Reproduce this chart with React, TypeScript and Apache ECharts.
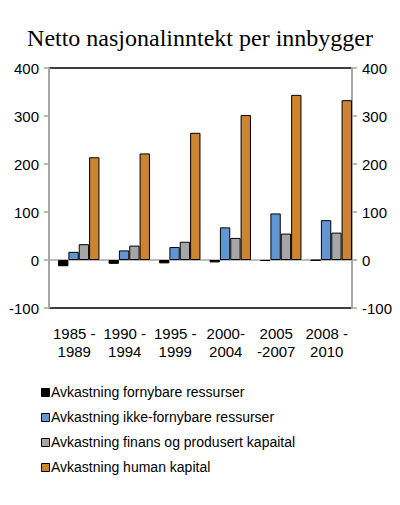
import React, { useEffect, useRef } from "react";
import * as echarts from "echarts";

const periods = ["1985 -\n1989", "1990 -\n1994", "1995 -\n1999", "2000-\n2004", "2005\n-2007", "2008 -\n2010"];
const fornybare = [-13, -8, -7, -5, -2, -1];
const ikkeFornybare = [17, 20, 27, 68, 97, 83];
const finans = [33, 30, 38, 46, 55, 57];
const human = [214, 222, 265, 302, 344, 333];

const seriesNames = [
  "Avkastning fornybare ressurser",
  "Avkastning ikke-fornybare ressurser",
  "Avkastning finans og produsert kapaital",
  "Avkastning human kapital",
];
const colors = ["#000000", "#6096d6", "#a6a6a6", "#cc8431"];

const App: React.FC = () => {
  const chartRef = useRef<HTMLDivElement>(null);

  useEffect(() => {
    const chart = echarts.init(chartRef.current!, undefined, { renderer: "svg" });
    const font = "Liberation Sans, Arial, sans-serif";
    const yAxisCommon = {
      type: "value",
      min: -100,
      max: 400,
      interval: 100,
      gridIndex: 0,
      axisLine: { show: true, lineStyle: { color: "#a6a6a6", width: 2 } },
      axisTick: { show: true, length: 5, lineStyle: { color: "#a6a6a6", width: 1.5 } },
      splitLine: { show: false },
      axisLabel: { color: "#000", fontSize: 15, fontFamily: font, margin: 10 },
    };
    const data = [fornybare, ikkeFornybare, finans, human];

    // legend drawn by hand so the swatches stay square
    const legendItems = seriesNames.flatMap((name, i) => [
      {
        type: "rect",
        left: 41,
        top: 388 + i * 25,
        shape: { width: 8, height: 8 },
        style: { fill: colors[i], stroke: "#000", lineWidth: 1 },
      },
      {
        type: "text",
        left: 51,
        top: 385 + i * 25,
        style: { text: name, fontSize: 14, fontFamily: font, fill: "#000" },
      },
    ]);

    const options = {
      animation: false,
      backgroundColor: "#ffffff",
      title: {
        text: "Netto nasjonalinntekt per innbygger",
        left: "center",
        top: 21,
        textStyle: {
          fontFamily: "Liberation Serif, Times New Roman, serif",
          fontWeight: "normal",
          fontSize: 24,
          color: "#000",
        },
      },
      grid: [
        { left: 49, right: 48, top: 68, bottom: 197, show: true, borderColor: "#000", borderWidth: 1.5 },
        { left: 53.5, right: 43.5, top: 68, bottom: 197 },
      ],
      graphic: legendItems,
      xAxis: [
        {
          type: "category",
          gridIndex: 0,
          data: periods,
          axisLine: { show: false, onZero: false },
          axisTick: { show: false },
          axisLabel: { color: "#000", fontSize: 15, fontFamily: font, margin: 16, lineHeight: 18, interval: 0 },
        },
        {
          type: "category",
          gridIndex: 1,
          data: periods,
          axisLine: { show: false, onZero: false },
          axisTick: { show: false },
          axisLabel: { show: false },
        },
      ],
      yAxis: [
        { ...yAxisCommon, position: "left" },
        { ...yAxisCommon, position: "right" },
        {
          type: "value",
          gridIndex: 1,
          min: -100,
          max: 400,
          interval: 100,
          show: false,
        },
      ],
      series: seriesNames.map((name, i) => ({
        name,
        type: "bar",
        xAxisIndex: 1,
        yAxisIndex: 2,
        data: data[i],
        barCategoryGap: "18%",
        barGap: "0%",
        itemStyle: { color: colors[i], borderColor: "#000", borderWidth: 1 },
        ...(i === 0
          ? {
              markLine: {
                silent: true,
                symbol: "none",
                label: { show: false },
                z: 1,
                lineStyle: { color: "#a6a6a6", type: "solid", width: 1.5 },
                data: [[{ x: 49, yAxis: 0 }, { x: 352, yAxis: 0 }]],
              },
            }
          : {}),
      })),
    };
    chart.setOption(options);

    return () => {
      chart.dispose();
    };
  }, []);

  return <div ref={chartRef} style={{ width: 400, height: 505, margin: -8 }}></div>;
};

export default App;
